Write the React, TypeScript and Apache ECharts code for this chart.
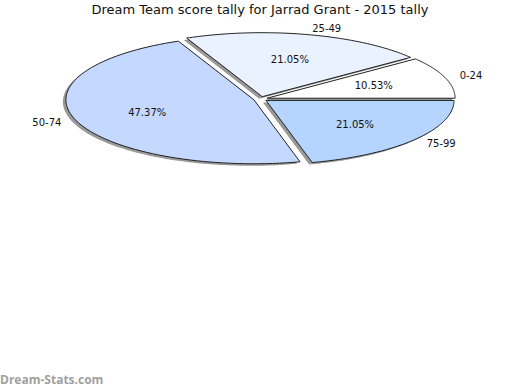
import React, { useEffect, useRef } from "react";
import * as echarts from "echarts";

const categories = ["0-24", "25-49", "50-74", "75-99"];
const values = [10.53, 21.05, 47.37, 21.05];
const sliceColors = ["#ffffff", "#eaf1ff", "#c5d8ff", "#b5d5ff"];
const titleText = "Dream Team score tally for Jarrad Grant - 2015 tally";

export default function App() {
  const ref = useRef<HTMLDivElement>(null);
  useEffect(() => {
    if (!ref.current) return;
    const chart = echarts.init(ref.current, undefined, { renderer: "svg" });
    const total = values.reduce((a, b) => a + b, 0);
    const cx = 260.5;
    const cy = 99;
    const rx = 188;
    const ry = 64;
    const explode = 7;
    const starts: number[] = [];
    let acc = 0;
    values.forEach((v) => {
      starts.push(acc);
      acc += v;
    });
    const renderItem = (params: any, api: any) => {
      const i = params.dataIndex;
      const v = api.value(1);
      const a0 = (starts[i] / total) * Math.PI * 2;
      const a1 = a0 + (v / total) * Math.PI * 2;
      const am = (a0 + a1) / 2;
      const ox = cx + explode * Math.cos(am);
      const oy = cy - explode * Math.sin(am) * (ry / rx);
      const pts: number[][] = [[ox, oy]];
      const n = 80;
      for (let k = 0; k <= n; k++) {
        const a = a0 + ((a1 - a0) * k) / n;
        pts.push([ox + rx * Math.cos(a), oy - ry * Math.sin(a)]);
      }
      const shadowPts = pts.map((p) => [p[0] - 3, p[1] + 2]);
      const lx = ox + rx * 0.6 * Math.cos(am);
      const ly = oy - ry * 0.6 * Math.sin(am);
      const c = Math.cos(am);
      const olx = cx + rx * 1.12 * c;
      const oly = cy - ry * 1.14 * Math.sin(am);
      return {
        type: "group",
        children: [
          {
            type: "polygon",
            shape: { points: shadowPts },
            style: { fill: "#999999", stroke: "none" },
            z2: 0,
          },
          {
            type: "polygon",
            shape: { points: pts },
            style: { fill: sliceColors[i], stroke: "#222222", lineWidth: 1 },
            z2: 1,
          },
          {
            type: "text",
            x: lx,
            y: ly,
            style: {
              text: values[i].toFixed(2) + "%",
              fill: "#111111",
              font: "10px 'DejaVu Sans'",
              align: "center",
              verticalAlign: "middle",
            },
            z2: 2,
          },
          {
            type: "text",
            x: olx,
            y: oly,
            style: {
              text: categories[i],
              fill: "#111111",
              font: "10px 'DejaVu Sans'",
              align: c >= 0 ? "left" : "right",
              verticalAlign: "middle",
            },
            z2: 2,
          },
        ],
      };
    };
    chart.setOption({
      animation: false,
      title: {
        text: titleText,
        left: "center",
        top: -2,
        textStyle: {
          fontFamily: "DejaVu Sans",
          fontSize: 13,
          fontWeight: "normal",
          color: "#111111",
        },
      },
      graphic: [
        {
          type: "text",
          left: 0,
          top: 373,
          style: {
            text: "Dream-Stats.com",
            fill: "#a0a0a0",
            font: "bold 12px 'Open Sans'",
          },
        },
      ],
      series: [
        {
          type: "custom",
          coordinateSystem: "none",
          renderItem,
          data: values.map((v, i) => [i, v]),
        },
      ],
    });
    return () => chart.dispose();
  }, []);
  return <div ref={ref} style={{ width: 520, height: 390, position: "absolute", left: 0, top: 0 }} />;
}
